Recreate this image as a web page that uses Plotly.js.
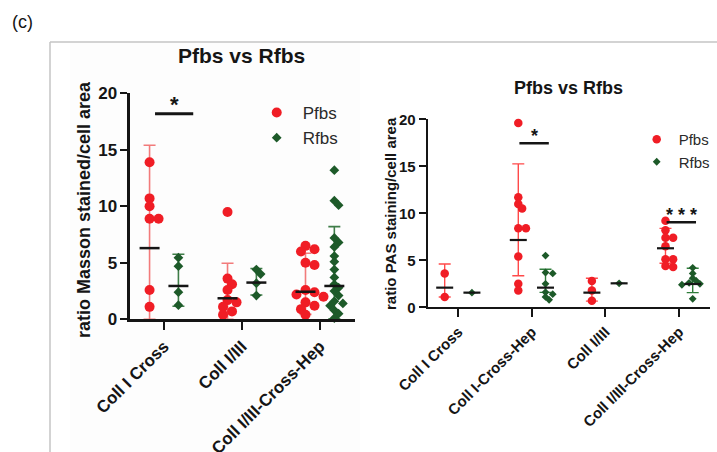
<!DOCTYPE html>
<html>
<head>
<meta charset="utf-8">
<script src="https://cdn.plot.ly/plotly-3.0.1.min.js"></script>
<style>html,body{margin:0;padding:0;background:#fff;}#chart{width:717px;height:452px;}</style>
</head>
<body>
<div id="chart"></div>
<script>
// ---------------- DATA ----------------
// Left panel: Masson staining
const massonCategories = ["Coll I Cross", "Coll I/III", "Coll I/III-Cross-Hep"];
const massonPfbsCollICross = [13.9, 10.7, 10.0, 8.9, 8.9, 2.6, 1.1];
const massonPfbsCollI_III = [9.5, 3.6, 3.1, 2.6, 1.7, 1.5, 1.1, 0.7, 0.4];
const massonPfbsCollI_IIICrossHep = [6.5, 6.2, 6.0, 5.0, 4.8, 2.6, 2.4, 2.2, 2.0, 1.5, 1.2, 0.9, 0.4];
const massonRfbsCollICross = [5.45, 4.7, 2.4, 1.25];
const massonRfbsCollI_III = [4.4, 4.0, 3.2, 2.1];
const massonRfbsCollI_IIICrossHep = [13.2, 10.5, 10.1, 7.2, 6.8, 6.4, 5.6, 5.1, 4.4, 3.7, 3.1, 2.8, 2.5, 2.1, 1.6, 1.4, 1.2, 0.8, 0.5, 0.1];
const massonPfbsMean = [6.3, 1.86, 2.44];
const massonPfbsSdUp = [9.1, 3.1, 3.4];
const massonPfbsSdDown = [6.3, 1.86, 2.0];
const massonRfbsMean = [2.95, 3.25, 2.95];
const massonRfbsSdUp = [2.8, 1.25, 5.25];
const massonRfbsSdDown = [1.8, 1.1, 2.9];
const massonSigCat = [0];
const massonSigY = [18.2];
const massonSigLabel = ["*"];

// Right panel: PAS staining
const pasCategories = ["Coll I Cross", "Coll I-Cross-Hep", "Coll I/III", "Coll I/III-Cross-Hep"];
const pasPfbsCollICross = [3.6, 1.1];
const pasPfbsCollICrossHep = [19.6, 11.7, 11.0, 10.5, 8.4, 8.4, 5.4, 2.5, 1.8];
const pasPfbsCollI_III = [2.8, 1.8, 0.7];
const pasPfbsCollI_IIICrossHep = [9.2, 8.2, 7.4, 7.4, 6.5, 5.1, 5.1, 4.4, 4.3];
const pasRfbsCollICross = [1.56];
const pasRfbsCollICrossHep = [5.5, 3.7, 3.6, 2.5, 1.6, 1.4, 1.1, 0.8];
const pasRfbsCollI_III = [2.55];
const pasRfbsCollI_IIICrossHep = [4.2, 3.6, 3.1, 2.8, 2.6, 2.5, 2.4, 0.9];
const pasPfbsMean = [2.09, 7.16, 1.56, 6.28];
const pasPfbsSdUp = [2.52, 8.1, 1.53, 2.12];
const pasPfbsSdDown = [1.0, 3.8, 0.9, 1.6];
const pasRfbsMean = [1.56, 2.09, 2.55, 2.48];
const pasRfbsSdUp = [0, 1.95, 0, 1.67];
const pasRfbsSdDown = [0, 0.5, 0, 0.92];
const pasSigCat = [1, 3];
const pasSigY = [17.45, 9.04];
const pasSigLabel = ["*", "* * *"];

const yTickVals = [0, 5, 10, 15, 20];
const seriesNames = ["Pfbs", "Rfbs"];

// ---------------- STYLE ----------------
const FONT = '"Liberation Sans", Arial, sans-serif';
const RED = '#f01d25';
const GREEN = '#1d5a29';
const INK = '#151515';

const L = { xdom: [0.18131, 0.49512], xr: [-0.436, 2.45], ydom: [0.29358, 0.79358], yr: [0, 20] };
const R = { xdom: [0.59651, 0.99024], xr: [-0.416, 3.42], ydom: [0.32013, 0.73606], yr: [0, 20] };
function pxPer(p) {
  return {
    x: (p.xdom[1] - p.xdom[0]) * 717 / (p.xr[1] - p.xr[0]),
    y: (p.ydom[1] - p.ydom[0]) * 452 / (p.yr[1] - p.yr[0])
  };
}

// simple deterministic swarm layout to limit overlapping dots
function swarm(vals, center, pp, size, tight) {
  const placed = [];
  const xs = new Array(vals.length);
  const order = vals.map((v, i) => i).sort((a, b) => vals[b] - vals[a]);
  const minD = tight * size, step = 0.45 * size;
  for (const i of order) {
    const py = vals[i] * pp.y;
    let chosen = 0;
    for (let k = 0; k < 15; k++) {
      const off = k === 0 ? 0 : (k % 2 ? 1 : -1) * Math.ceil(k / 2) * step;
      if (placed.every(p => Math.hypot(p.x - off, p.y - py) >= minD)) { chosen = off; break; }
    }
    placed.push({ x: chosen, y: py });
    xs[i] = center + chosen / pp.x;
  }
  return xs;
}

function panelTraces(groupsP, groupsR, meanP, upP, dnP, meanR, upR, dnR, panel, axX, axY, legendId, st) {
  const pp = pxPer(panel);
  const traces = [];
  const offP = -st.off, offR = st.off;
  const cats = meanP.map((v, i) => i);
  traces.push({ type: 'scatter', mode: 'markers', xaxis: axX, yaxis: axY, showlegend: false, hoverinfo: 'skip', cliponaxis: false,
    x: cats.map(c => c + offP), y: meanP, marker: { size: 2, opacity: 0 },
    error_y: { type: 'data', symmetric: false, array: upP, arrayminus: dnP, color: st.errP, thickness: st.errTh, width: st.capW } });
  traces.push({ type: 'scatter', mode: 'markers', xaxis: axX, yaxis: axY, showlegend: false, hoverinfo: 'skip', cliponaxis: false,
    x: cats.map(c => c + offR), y: meanR, marker: { size: 2, opacity: 0 },
    error_y: { type: 'data', symmetric: false, array: upR, arrayminus: dnR, color: st.errR, thickness: st.errTh, width: st.capW } });
  let xP = [], yP = [], xR = [], yR = [];
  groupsP.forEach((g, c) => { xP = xP.concat(swarm(g, c + offP, pp, st.circ, 0.7)); yP = yP.concat(g); });
  groupsR.forEach((g, c) => { xR = xR.concat(swarm(g, c + offR, pp, st.diaW, 0.55)); yR = yR.concat(g); });
  traces.push({ type: 'scatter', mode: 'markers', name: seriesNames[0], legend: legendId, xaxis: axX, yaxis: axY, cliponaxis: false,
    x: xP, y: yP, marker: { symbol: 'circle', size: st.circ, color: RED } });
  traces.push({ type: 'scatter', mode: 'markers', name: seriesNames[1], legend: legendId, xaxis: axX, yaxis: axY, cliponaxis: false,
    x: xR, y: yR, marker: { symbol: 'diamond', size: st.dia, color: GREEN } });
  traces.push({ type: 'scatter', mode: 'markers', xaxis: axX, yaxis: axY, showlegend: false, hoverinfo: 'skip', cliponaxis: false,
    x: cats.map(c => c + offP).concat(cats.map(c => c + offR)), y: meanP.concat(meanR),
    marker: { symbol: 'line-ew', size: st.meanLen / 1.4, line: { width: st.meanTh, color: INK } } });
  return traces;
}

const traces = []
  .concat(panelTraces(
    [massonPfbsCollICross, massonPfbsCollI_III, massonPfbsCollI_IIICrossHep],
    [massonRfbsCollICross, massonRfbsCollI_III, massonRfbsCollI_IIICrossHep],
    massonPfbsMean, massonPfbsSdUp, massonPfbsSdDown, massonRfbsMean, massonRfbsSdUp, massonRfbsSdDown,
    L, 'x', 'y', 'legend',
    { off: 0.185, errP: '#f27b7b', errR: '#3f7d48', errTh: 1.6, capW: 6, circ: 10, dia: 7.5, diaW: 9.5, meanLen: 20, meanTh: 2.5 }))
  .concat(panelTraces(
    [pasPfbsCollICross, pasPfbsCollICrossHep, pasPfbsCollI_III, pasPfbsCollI_IIICrossHep],
    [pasRfbsCollICross, pasRfbsCollICrossHep, pasRfbsCollI_III, pasRfbsCollI_IIICrossHep],
    pasPfbsMean, pasPfbsSdUp, pasPfbsSdDown, pasRfbsMean, pasRfbsSdUp, pasRfbsSdDown,
    R, 'x2', 'y2', 'legend2',
    { off: 0.185, errP: '#ff4a4a', errR: '#2f7d3a', errTh: 1.4, capW: 6, circ: 8.5, dia: 6, diaW: 8, meanLen: 17, meanTh: 2.2 }));

function xAxis(p, cats, anchor, fs, lw) {
  return { domain: p.xdom, range: p.xr, anchor: anchor, tickmode: 'array', tickvals: cats.map((c, i) => i), ticktext: cats,
    tickangle: -45, showline: true, linewidth: lw, linecolor: INK, ticks: 'outside', ticklen: 8, tickwidth: 2, tickcolor: INK,
    showgrid: false, zeroline: false, fixedrange: true, tickfont: { family: FONT, size: fs, weight: 'bold', color: INK } };
}
function yAxis(p, anchor, fs, lw) {
  return { domain: p.ydom, range: p.yr, anchor: anchor, tickmode: 'array', tickvals: yTickVals,
    showline: true, linewidth: lw, linecolor: INK, ticks: 'outside', ticklen: 7, tickwidth: 2, tickcolor: INK,
    showgrid: false, zeroline: false, fixedrange: true, tickfont: { family: FONT, size: fs, weight: 'bold', color: INK } };
}

const shapes = [
  { type: 'rect', xref: 'paper', yref: 'paper', x0: 70 / 717, x1: 360 / 717, y0: 0, y1: 1 - 43 / 452, line: { width: 0 }, fillcolor: '#fdfdfd', layer: 'below' },
  { type: 'line', xref: 'paper', yref: 'paper', x0: 50 / 717, x1: 1, y0: 1 - 42 / 452, y1: 1 - 42 / 452, line: { color: '#c4c4c4', width: 1.5 } },
  { type: 'line', xref: 'paper', yref: 'paper', x0: 50 / 717, x1: 50 / 717, y0: 0, y1: 1 - 42 / 452, line: { color: '#c4c4c4', width: 1.5 } }
];
function pa(text, x, y, size, bold, angle) {
  return { text: text, xref: 'paper', yref: 'paper', x: x / 717, y: 1 - y / 452, xanchor: 'center', yanchor: 'middle',
    textangle: angle || 0, showarrow: false, font: { family: FONT, size: size, weight: bold ? 'bold' : 'normal', color: INK } };
}
const annotations = [
  pa('(c)', 22, 22, 18, false),
  pa('Pfbs vs Rfbs', 241.7, 55, 21, true),
  pa('Pfbs vs Rfbs', 568, 88, 18, true),
  pa('ratio Masson stained/cell area', 84, 210, 18, true, -90),
  pa('ratio PAS staining/cell area', 390.5, 213.5, 15, true, -90)
];
massonSigCat.forEach((c, i) => {
  shapes.push({ type: 'line', xref: 'x', yref: 'y', x0: c - 0.115, x1: c + 0.375, y0: massonSigY[i], y1: massonSigY[i], line: { color: INK, width: 3 } });
  annotations.push({ text: massonSigLabel[i], xref: 'x', yref: 'y', x: c + 0.13, y: massonSigY[i], xanchor: 'center', yanchor: 'middle', yshift: 9, showarrow: false, font: { family: FONT, size: 22, weight: 'bold', color: INK } });
});
pasSigCat.forEach((c, i) => {
  shapes.push({ type: 'line', xref: 'x2', yref: 'y2', x0: c - 0.17, x1: c + 0.23, y0: pasSigY[i], y1: pasSigY[i], line: { color: INK, width: 2.6 } });
  annotations.push({ text: pasSigLabel[i], xref: 'x2', yref: 'y2', x: c + 0.03, y: pasSigY[i], xanchor: 'center', yanchor: 'middle', yshift: 7, showarrow: false, font: { family: FONT, size: 18, weight: 'bold', color: INK } });
});

const layout = {
  width: 717, height: 452, autosize: false,
  margin: { l: 0, r: 0, t: 0, b: 0 },
  paper_bgcolor: '#ffffff', plot_bgcolor: 'rgba(0,0,0,0)',
  font: { family: FONT, color: INK },
  xaxis: xAxis(L, massonCategories, 'y', 17, 2.5),
  yaxis: yAxis(L, 'x', 17, 2.5),
  xaxis2: xAxis(R, pasCategories, 'y2', 15, 2),
  yaxis2: yAxis(R, 'x2', 15, 2),
  legend: { x: 250.7 / 717, y: 1 - 95 / 452, xanchor: 'left', yanchor: 'top', bgcolor: 'rgba(0,0,0,0)', borderwidth: 0, itemwidth: 42,
    font: { family: FONT, size: 17, color: '#2a2a2a' }, tracegroupgap: 0 },
  legend2: { x: 634.7 / 717, y: 1 - 123 / 452, xanchor: 'left', yanchor: 'top', bgcolor: 'rgba(0,0,0,0)', borderwidth: 0, itemwidth: 34,
    font: { family: FONT, size: 15, color: '#2a2a2a' }, tracegroupgap: 0 },
  shapes: shapes,
  annotations: annotations,
  showlegend: true
};

Plotly.newPlot('chart', traces, layout, { displayModeBar: false, staticPlot: true });
</script>
</body>
</html>
